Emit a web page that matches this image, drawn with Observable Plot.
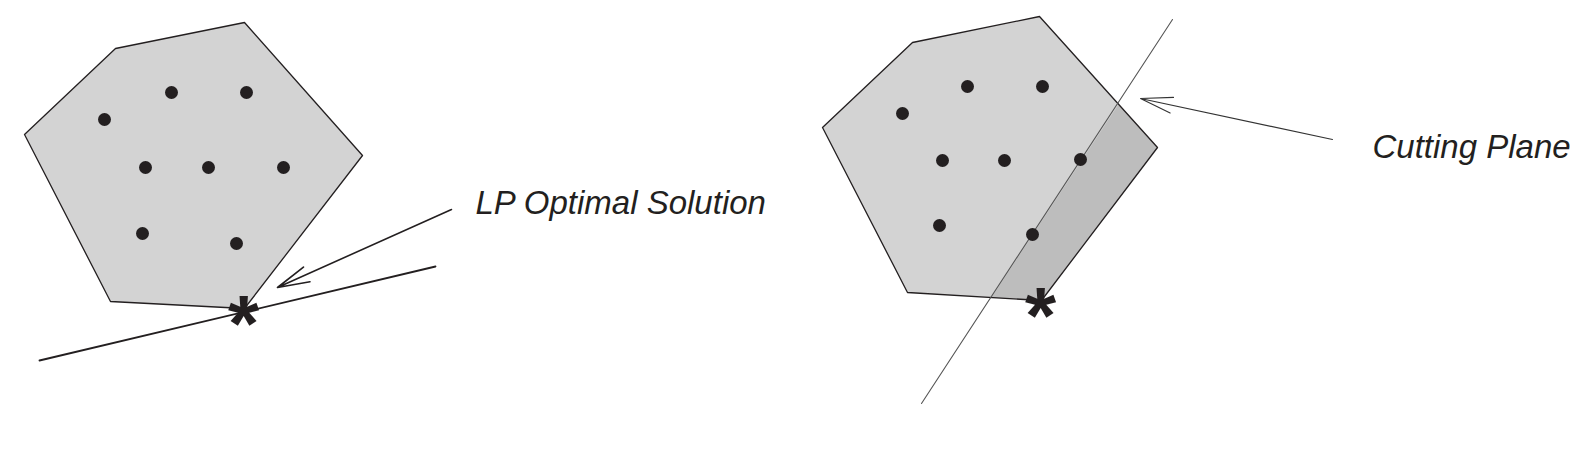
<!DOCTYPE html>
<html>
<head>
<meta charset="utf-8">
<script src="https://cdn.jsdelivr.net/npm/d3@7"></script>
<script src="https://cdn.jsdelivr.net/npm/@observablehq/plot@0.6"></script>
<style>
  html, body { margin: 0; padding: 0; background: #fff; }
  #chart svg { display: block; }
</style>
</head>
<body>
<div id="chart"></div>
<script>
// Left panel: feasible region (polygon vertices), integer points, LP optimum
const leftPolygonX = [24, 115, 244, 362, 244, 110];
const leftPolygonY = [134, 48, 22, 155, 308, 301];
const leftDotsX = [171, 246, 104, 145, 208, 283, 142, 236];
const leftDotsY = [92, 92, 119, 167, 167, 167, 233, 243];
const leftOptimum = [243, 308];
const objectiveLineX = [39, 435];
const objectiveLineY = [360, 266];
const leftArrowFrom = [451, 209];
const leftArrowTo = [277, 287];
const leftLabel = "LP Optimal Solution";
const leftLabelPos = [475, 213];

// Right panel: same region, cutting plane and cut-off part
const rightPolygonX = [822, 912, 1039, 1157, 1041, 907];
const rightPolygonY = [127, 42, 16, 147, 300, 292];
const cutRegionX = [1118, 1157, 1041, 991];
const cutRegionY = [104, 147, 300, 297];
const rightDotsX = [967, 1042, 902, 942, 1004, 1080, 939, 1032];
const rightDotsY = [86, 86, 113, 160, 160, 159, 225, 234];
const rightOptimum = [1040, 300];
const cutLineX = [1172, 921];
const cutLineY = [19, 403];
const rightArrowFrom = [1332, 139];
const rightArrowTo = [1140, 98];
const rightLabel = "Cutting Plane";
const rightLabelPos = [1372, 157];

const toPts = (xs, ys) => xs.map((x, i) => ({x, y: ys[i]}));
const ink = "#231f20";

const chart = Plot.plot({
  width: 1584,
  height: 458,
  margin: 0,
  x: {domain: [0, 1584], range: [0, 1584], axis: null},
  y: {domain: [0, 458], range: [0, 458], axis: null},
  style: {background: "#fff"},
  marks: [
    Plot.line(toPts(leftPolygonX, leftPolygonY), {x: "x", y: "y", curve: "linear-closed", fill: "#d3d3d3", stroke: ink, strokeWidth: 1.3}),
    Plot.line(toPts(rightPolygonX, rightPolygonY), {x: "x", y: "y", curve: "linear-closed", fill: "#d3d3d3", stroke: "none"}),
    Plot.line(toPts(cutRegionX, cutRegionY), {x: "x", y: "y", curve: "linear-closed", fill: "#bdbdbd", stroke: "none"}),
    Plot.line(toPts(rightPolygonX, rightPolygonY), {x: "x", y: "y", curve: "linear-closed", fill: "none", stroke: ink, strokeWidth: 1.3}),
    Plot.line(toPts(objectiveLineX, objectiveLineY), {x: "x", y: "y", stroke: ink, strokeWidth: 1.8}),
    Plot.line(toPts(cutLineX, cutLineY), {x: "x", y: "y", stroke: "#555", strokeWidth: 1.1}),
    Plot.dot(toPts(leftDotsX, leftDotsY), {x: "x", y: "y", r: 6.5, fill: ink, stroke: "none"}),
    Plot.dot(toPts(rightDotsX, rightDotsY), {x: "x", y: "y", r: 6.5, fill: ink, stroke: "none"}),
    Plot.arrow([{x1: leftArrowFrom[0], y1: leftArrowFrom[1], x2: leftArrowTo[0], y2: leftArrowTo[1]}],
      {x1: "x1", y1: "y1", x2: "x2", y2: "y2", stroke: ink, strokeWidth: 1.6, headAngle: 28, headLength: 33 * 1.5 / 1.6}),
    Plot.arrow([{x1: rightArrowFrom[0], y1: rightArrowFrom[1], x2: rightArrowTo[0], y2: rightArrowTo[1]}],
      {x1: "x1", y1: "y1", x2: "x2", y2: "y2", stroke: "#333", strokeWidth: 1.1, headAngle: 28, headLength: 33 * 1.5 / 1.1}),
    Plot.text([{x: leftOptimum[0], y: leftOptimum[1]}, {x: rightOptimum[0], y: rightOptimum[1]}],
      {x: "x", y: "y", text: () => "*", fontSize: 80, fontWeight: "bold", fill: ink, textAnchor: "middle", lineAnchor: "bottom", dy: 42, fontFamily: "Liberation Sans, Arial, sans-serif"}),
    Plot.text([{x: leftLabelPos[0], y: leftLabelPos[1], t: leftLabel}, {x: rightLabelPos[0], y: rightLabelPos[1], t: rightLabel}],
      {x: "x", y: "y", text: "t", fontSize: 33, fontStyle: "italic", fill: ink, textAnchor: "start", lineAnchor: "bottom", fontFamily: "Liberation Sans, Arial, sans-serif"})
  ]
});
document.getElementById("chart").appendChild(chart);
</script>
</body>
</html>
